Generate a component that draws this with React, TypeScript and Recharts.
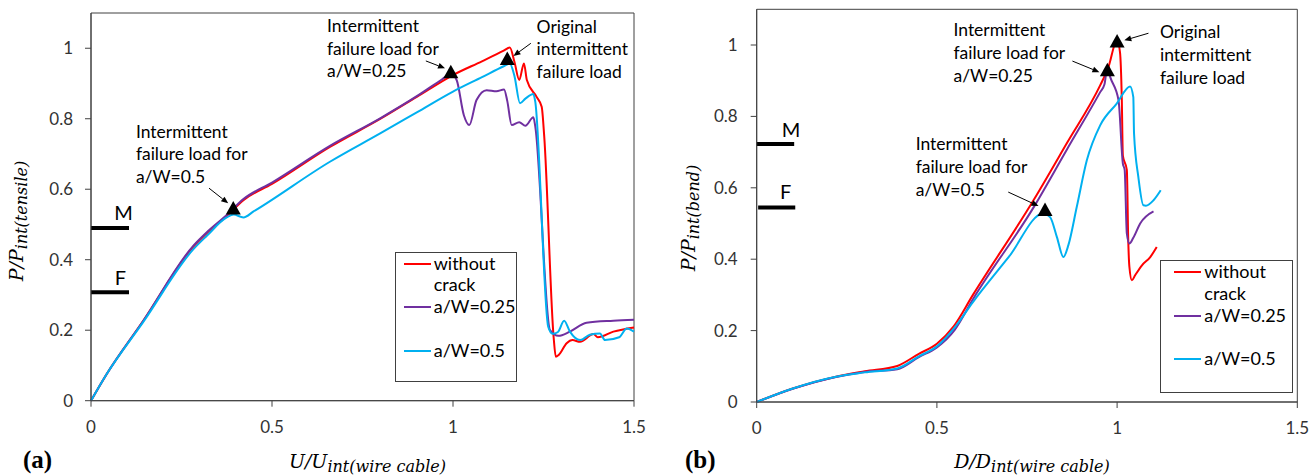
import {
  ComposedChart,
  Line,
  Scatter,
  XAxis,
  YAxis,
  Label,
  Legend,
  ReferenceLine,
  ReferenceArea,
  ReferenceDot,
} from 'recharts'

type Pt = { x: number; y: number }

const FONT = 'Lato, "Open Sans", sans-serif'
const MATH = '"DejaVu Serif", serif'
const RED = '#ff0000'
const PURPLE = '#7030a0'
const BLUE = '#00b0f0'
const INK = '#404040'

const xTicks = [0, 0.5, 1, 1.5]
const yTicks = [0, 0.2, 0.4, 0.6, 0.8, 1]
const seriesNames = ['without crack', 'a/W=0.25', 'a/W=0.5']

// (a) tensile loading
const tensileNoCrack: Pt[] = [
  { x: 0, y: 0 }, { x: 0.043, y: 0.075 }, { x: 0.144, y: 0.226 }, { x: 0.283, y: 0.437 },
  { x: 0.32, y: 0.475 }, { x: 0.375, y: 0.524 }, { x: 0.421, y: 0.569 }, { x: 0.5, y: 0.615 },
  { x: 0.66, y: 0.72 }, { x: 0.8, y: 0.8 }, { x: 0.9, y: 0.862 }, { x: 1.0, y: 0.924 },
  { x: 1.08, y: 0.963 }, { x: 1.14, y: 0.993 }, { x: 1.157, y: 1.002 }, { x: 1.17, y: 0.96 },
  { x: 1.183, y: 0.91 }, { x: 1.196, y: 0.957 }, { x: 1.204, y: 0.91 }, { x: 1.231, y: 0.862 },
  { x: 1.245, y: 0.834 }, { x: 1.252, y: 0.75 }, { x: 1.278, y: 0.18 }, { x: 1.284, y: 0.125 },
  { x: 1.292, y: 0.13 }, { x: 1.314, y: 0.163 }, { x: 1.33, y: 0.172 }, { x: 1.351, y: 0.167 },
  { x: 1.388, y: 0.189 }, { x: 1.4, y: 0.18 }, { x: 1.443, y: 0.196 }, { x: 1.5, y: 0.208 },
]
const tensileQuarter: Pt[] = [
  { x: 0, y: 0 }, { x: 0.043, y: 0.075 }, { x: 0.144, y: 0.226 }, { x: 0.283, y: 0.44 },
  { x: 0.32, y: 0.478 }, { x: 0.375, y: 0.527 }, { x: 0.421, y: 0.572 }, { x: 0.5, y: 0.619 },
  { x: 0.66, y: 0.723 }, { x: 0.8, y: 0.802 }, { x: 0.9, y: 0.864 }, { x: 0.97, y: 0.912 },
  { x: 0.994, y: 0.928 }, { x: 1.01, y: 0.91 }, { x: 1.03, y: 0.81 }, { x: 1.045, y: 0.782 },
  { x: 1.065, y: 0.853 }, { x: 1.093, y: 0.881 }, { x: 1.12, y: 0.878 }, { x: 1.141, y: 0.883 },
  { x: 1.15, y: 0.85 }, { x: 1.162, y: 0.782 }, { x: 1.183, y: 0.79 }, { x: 1.2, y: 0.78 },
  { x: 1.222, y: 0.804 }, { x: 1.227, y: 0.78 }, { x: 1.268, y: 0.2 }, { x: 1.291, y: 0.184 },
  { x: 1.323, y: 0.196 }, { x: 1.369, y: 0.221 }, { x: 1.443, y: 0.227 }, { x: 1.5, y: 0.23 },
]
const tensileHalf: Pt[] = [
  { x: 0, y: 0 }, { x: 0.043, y: 0.075 }, { x: 0.144, y: 0.223 }, { x: 0.283, y: 0.43 },
  { x: 0.32, y: 0.468 }, { x: 0.375, y: 0.52 }, { x: 0.394, y: 0.528 }, { x: 0.421, y: 0.52 },
  { x: 0.449, y: 0.537 }, { x: 0.66, y: 0.678 }, { x: 0.8, y: 0.759 }, { x: 0.9, y: 0.818 },
  { x: 1.0, y: 0.877 }, { x: 1.08, y: 0.918 }, { x: 1.14, y: 0.949 }, { x: 1.157, y: 0.957 },
  { x: 1.17, y: 0.92 }, { x: 1.185, y: 0.844 }, { x: 1.2, y: 0.857 }, { x: 1.222, y: 0.87 },
  { x: 1.227, y: 0.85 }, { x: 1.263, y: 0.21 }, { x: 1.275, y: 0.19 }, { x: 1.29, y: 0.195 },
  { x: 1.307, y: 0.227 }, { x: 1.323, y: 0.196 }, { x: 1.351, y: 0.172 }, { x: 1.378, y: 0.187 },
  { x: 1.406, y: 0.191 }, { x: 1.42, y: 0.172 }, { x: 1.459, y: 0.18 }, { x: 1.48, y: 0.205 },
  { x: 1.5, y: 0.196 },
]
const tensileMarkers: Pt[] = [
  { x: 0.393, y: 0.547 }, { x: 0.994, y: 0.933 }, { x: 1.15, y: 0.971 },
]
const tensileArrows = [
  { from: { x: 0.326, y: 0.603 }, to: { x: 0.379, y: 0.56 } },
  { from: { x: 0.925, y: 0.964 }, to: { x: 0.978, y: 0.943 } },
  { from: { x: 1.215, y: 1.014 }, to: { x: 1.167, y: 0.978 } },
]
const tensileNotes = [
  { x: 0.124, y: 0.763, lines: ['Intermittent', 'failure load for', 'a/W=0.5'] },
  { x: 0.652, y: 1.063, lines: ['Intermittent', 'failure load for', 'a/W=0.25'] },
  { x: 1.231, y: 1.061, lines: ['Original', 'intermittent', 'failure load'] },
]
const tensileLevels = [
  { name: 'M', y: 0.49, x1: 0, x2: 0.105, lx: 0.09, ly: 0.532 },
  { name: 'F', y: 0.308, x1: 0, x2: 0.105, lx: 0.081, ly: 0.349 },
]

// (b) bending loading
const bendNoCrack: Pt[] = [
  { x: 0, y: 0 }, { x: 0.1, y: 0.038 }, { x: 0.22, y: 0.071 }, { x: 0.3, y: 0.086 },
  { x: 0.39, y: 0.101 }, { x: 0.45, y: 0.135 }, { x: 0.5, y: 0.163 }, { x: 0.546, y: 0.211 },
  { x: 0.6, y: 0.3 }, { x: 0.768, y: 0.565 }, { x: 0.86, y: 0.724 }, { x: 0.953, y: 0.887 },
  { x: 0.975, y: 0.935 }, { x: 1.0, y: 1.013 }, { x: 1.008, y: 0.98 }, { x: 1.013, y: 0.85 },
  { x: 1.016, y: 0.69 }, { x: 1.027, y: 0.65 }, { x: 1.031, y: 0.45 }, { x: 1.034, y: 0.38 },
  { x: 1.041, y: 0.341 }, { x: 1.05, y: 0.355 }, { x: 1.069, y: 0.383 }, { x: 1.092, y: 0.406 },
  { x: 1.11, y: 0.434 },
]
const bendQuarter: Pt[] = [
  { x: 0, y: 0 }, { x: 0.1, y: 0.037 }, { x: 0.22, y: 0.07 }, { x: 0.3, y: 0.084 },
  { x: 0.39, y: 0.092 }, { x: 0.45, y: 0.126 }, { x: 0.5, y: 0.153 }, { x: 0.55, y: 0.203 },
  { x: 0.6, y: 0.288 }, { x: 0.77, y: 0.548 }, { x: 0.86, y: 0.706 }, { x: 0.953, y: 0.868 },
  { x: 0.965, y: 0.89 }, { x: 0.973, y: 0.938 }, { x: 0.981, y: 0.91 }, { x: 1.004, y: 0.845 },
  { x: 1.016, y: 0.668 }, { x: 1.021, y: 0.65 }, { x: 1.027, y: 0.472 }, { x: 1.034, y: 0.444 },
  { x: 1.045, y: 0.46 }, { x: 1.064, y: 0.5 }, { x: 1.101, y: 0.534 },
]
const bendHalf: Pt[] = [
  { x: 0, y: 0 }, { x: 0.1, y: 0.038 }, { x: 0.22, y: 0.071 }, { x: 0.3, y: 0.083 },
  { x: 0.39, y: 0.094 }, { x: 0.45, y: 0.128 }, { x: 0.5, y: 0.156 }, { x: 0.55, y: 0.21 },
  { x: 0.6, y: 0.28 }, { x: 0.7, y: 0.407 }, { x: 0.795, y: 0.528 }, { x: 0.814, y: 0.518 },
  { x: 0.833, y: 0.462 }, { x: 0.851, y: 0.406 }, { x: 0.865, y: 0.44 }, { x: 0.888, y: 0.546 },
  { x: 0.916, y: 0.677 }, { x: 0.953, y: 0.775 }, { x: 0.999, y: 0.836 }, { x: 1.036, y: 0.884 },
  { x: 1.045, y: 0.854 }, { x: 1.047, y: 0.752 }, { x: 1.059, y: 0.63 }, { x: 1.073, y: 0.551 },
  { x: 1.08, y: 0.55 }, { x: 1.101, y: 0.565 }, { x: 1.121, y: 0.593 },
]
const bendMarkers: Pt[] = [
  { x: 1.0, y: 1.011 }, { x: 0.973, y: 0.931 }, { x: 0.8, y: 0.539 },
]
const bendArrows = [
  { from: { x: 0.876, y: 0.955 }, to: { x: 0.951, y: 0.924 } },
  { from: { x: 1.087, y: 1.033 }, to: { x: 1.02, y: 1.013 } },
  { from: { x: 0.698, y: 0.588 }, to: { x: 0.782, y: 0.549 } },
]
const bendNotes = [
  { x: 0.546, y: 1.041, lines: ['Intermittent', 'failure load for', 'a/W=0.25'] },
  { x: 1.119, y: 1.036, lines: ['Original', 'intermittent', 'failure load'] },
  { x: 0.441, y: 0.722, lines: ['Intermittent', 'failure load for', 'a/W=0.5'] },
]
const bendLevels = [
  { name: 'M', y: 0.7226, x1: 0, x2: 0.104, lx: 0.095, ly: 0.761 },
  { name: 'F', y: 0.545, x1: 0.004, x2: 0.107, lx: 0.08, ly: 0.587 },
]

function Triangle(props: any) {
  const { cx, cy } = props
  return (
    <polygon
      points={`${cx},${cy - 7} ${cx - 7.5},${cy + 6.5} ${cx + 7.5},${cy + 6.5}`}
      fill="#000"
    />
  )
}

function Arrow(props: any) {
  const { x1, y1, x2, y2 } = props
  const a = Math.atan2(y2 - y1, x2 - x1)
  const len = 7
  const half = 3
  const bx = x2 - len * Math.cos(a)
  const by = y2 - len * Math.sin(a)
  const nx = -Math.sin(a) * half
  const ny = Math.cos(a) * half
  return (
    <g>
      <line x1={x1} y1={y1} x2={bx} y2={by} stroke="#000" strokeWidth={1} />
      <polygon points={`${x2},${y2} ${bx + nx},${by + ny} ${bx - nx},${by - ny}`} fill="#000" />
    </g>
  )
}

const noteShape = (lines: string[]) => (p: any) => (
  <text x={p.cx} y={p.cy + 6} fontFamily={FONT} fontSize={17.5} fill="#000">
    {lines.map((l, i) => (
      <tspan key={i} x={p.cx} dy={i === 0 ? 0 : 22.7}>
        {l}
      </tspan>
    ))}
  </text>
)

const letterShape = (t: string) => (p: any) => (
  <text x={p.cx} y={p.cy + 7} textAnchor="middle" fontFamily={FONT} fontSize={20} fill="#000">
    {t}
  </text>
)

function LegendBox({ payload, padLeft }: { payload: any[]; padLeft: number }) {
  const items = (payload || [])
    .filter((e) => e.type !== 'none' && seriesNames.includes(e.value))
    .sort((a, b) => seriesNames.indexOf(a.value) - seriesNames.indexOf(b.value))
  return (
    <div
      style={{
        width: '100%',
        height: '100%',
        boxSizing: 'border-box',
        border: `1px solid ${INK}`,
        background: '#fff',
        fontFamily: FONT,
        fontSize: 18,
        lineHeight: '21.75px',
        color: '#000',
      }}
    >
      {items.map((e) => (
        <div key={e.value} style={{ display: 'flex', height: 43.5, paddingLeft: padLeft }}>
          <div style={{ width: 27, height: 21.75, position: 'relative', flex: 'none' }}>
            <div style={{ position: 'absolute', top: 10, left: 0, width: 27, height: 2, background: e.color }} />
          </div>
          <div style={{ paddingLeft: 3, paddingRight: 4 }}>{e.value}</div>
        </div>
      ))}
    </div>
  )
}

type PanelProps = {
  left: number
  width: number
  margin: { top: number; right: number; bottom: number; left: number }
  tickMargin: number
  series: Pt[][]
  markers: Pt[]
  arrows: { from: Pt; to: Pt }[]
  notes: { x: number; y: number; lines: string[] }[]
  levels: { name: string; y: number; x1: number; x2: number; lx: number; ly: number }[]
  legendBox: { left: number; top: number; width: number; height: number; padLeft: number }
  yTitle: { x: number; y: number; main: string; sub: string }
  xTitle: { x: number; y: number; main: string; sub: string }
  tag: { x: number; y: number; text: string }
}

function Panel(p: PanelProps) {
  const colors = [RED, PURPLE, BLUE]
  return (
    <div style={{ position: 'absolute', left: p.left, top: 0 }}>
      <ComposedChart width={p.width} height={476} margin={p.margin}>
        <XAxis
          dataKey="x"
          type="number"
          domain={[0, 1.5]}
          ticks={xTicks}
          height={30}
          tickSize={6}
          tickMargin={14}
          axisLine={{ stroke: INK }}
          tickLine={{ stroke: INK }}
          tick={{ fill: '#333', fontSize: 17, fontFamily: FONT }}
        >
          <Label
            content={() => (
              <g>
                <text x={p.xTitle.x} y={p.xTitle.y} textAnchor="middle" fontFamily={MATH} fontStyle="italic" fontSize={19} fill="#000">
                  {p.xTitle.main}
                  <tspan dy={4} fontSize={16}>{p.xTitle.sub}</tspan>
                </text>
                <text x={p.tag.x} y={p.tag.y} fontFamily='"Liberation Serif", serif' fontWeight="bold" fontSize={25} fill="#000">
                  {p.tag.text}
                </text>
              </g>
            )}
          />
        </XAxis>
        <YAxis
          dataKey="y"
          type="number"
          domain={[0, 1.1]}
          ticks={yTicks}
          width={60}
          tickSize={6}
          tickMargin={p.tickMargin}
          axisLine={{ stroke: INK }}
          tickLine={{ stroke: INK }}
          tick={{ fill: '#333', fontSize: 17, fontFamily: FONT }}
        >
          <Label
            content={() => (
              <text
                x={p.yTitle.x}
                y={p.yTitle.y}
                transform={`rotate(-90, ${p.yTitle.x}, ${p.yTitle.y})`}
                textAnchor="middle"
                fontFamily={MATH}
                fontStyle="italic"
                fontSize={19}
                fill="#000"
              >
                {p.yTitle.main}
                <tspan dy={4} fontSize={16}>{p.yTitle.sub}</tspan>
              </text>
            )}
          />
        </YAxis>
        <ReferenceArea x1={0} x2={1.5} y1={0} y2={1.1} fill="none" stroke={INK} strokeWidth={1} />
        {p.levels.map((l) => (
          <ReferenceLine
            key={l.name}
            segment={[{ x: l.x1, y: l.y }, { x: l.x2, y: l.y }]}
            stroke="#000"
            strokeWidth={4}
          />
        ))}
        {p.levels.map((l) => (
          <ReferenceDot key={'t' + l.name} x={l.lx} y={l.ly} shape={letterShape(l.name)} />
        ))}
        {p.series.map((s, i) => (
          <Line
            key={seriesNames[i]}
            data={s}
            dataKey="y"
            name={seriesNames[i]}
            type="monotone"
            stroke={colors[i]}
            strokeWidth={2}
            dot={false}
            activeDot={false}
            isAnimationActive={false}
          />
        ))}
        <Scatter data={p.markers} dataKey="y" legendType="none" shape={Triangle} isAnimationActive={false} />
        {p.arrows.map((a, i) => (
          <ReferenceLine key={'a' + i} segment={[a.from, a.to]} shape={Arrow} />
        ))}
        {p.notes.map((n, i) => (
          <ReferenceDot key={'n' + i} x={n.x} y={n.y} shape={noteShape(n.lines)} />
        ))}
        <Legend
          layout="horizontal"
          verticalAlign="middle"
          align="center"
          wrapperStyle={{
            left: p.legendBox.left,
            top: p.legendBox.top,
            width: p.legendBox.width,
            height: p.legendBox.height,
          }}
          content={(props: any) => <LegendBox payload={props.payload} padLeft={p.legendBox.padLeft} />}
        />
      </ComposedChart>
    </div>
  )
}

export default function App() {
  return (
    <div style={{ position: 'absolute', left: 0, top: 0, width: 1311, height: 476, background: '#fff' }}>
      <Panel
        left={0}
        width={660}
        margin={{ top: 13, right: 26, bottom: 45.3, left: 31 }}
        tickMargin={12}
        series={[tensileNoCrack, tensileQuarter, tensileHalf]}
        markers={tensileMarkers}
        arrows={tensileArrows}
        notes={tensileNotes}
        levels={tensileLevels}
        legendBox={{ left: 395, top: 251.7, width: 122.3, height: 130.3, padLeft: 7.7 }}
        yTitle={{ x: 23, y: 221, main: 'P/P', sub: 'int(tensile)' }}
        xTitle={{ x: 367.5, y: 468.3, main: 'U/U', sub: 'int(wire cable)' }}
        tag={{ x: 23, y: 468, text: '(a)' }}
      />
      <Panel
        left={660}
        width={651}
        margin={{ top: 9.3, right: 13.7, bottom: 44, left: 36.7 }}
        tickMargin={13}
        series={[bendNoCrack, bendQuarter, bendHalf]}
        markers={bendMarkers}
        arrows={bendArrows}
        notes={bendNotes}
        levels={bendLevels}
        legendBox={{ left: 500.3, top: 260, width: 133, height: 133.3, padLeft: 13 }}
        yTitle={{ x: 35, y: 218, main: 'P/P', sub: 'int(bend)' }}
        xTitle={{ x: 372, y: 468, main: 'D/D', sub: 'int(wire cable)' }}
        tag={{ x: 25, y: 468, text: '(b)' }}
      />
    </div>
  )
}
